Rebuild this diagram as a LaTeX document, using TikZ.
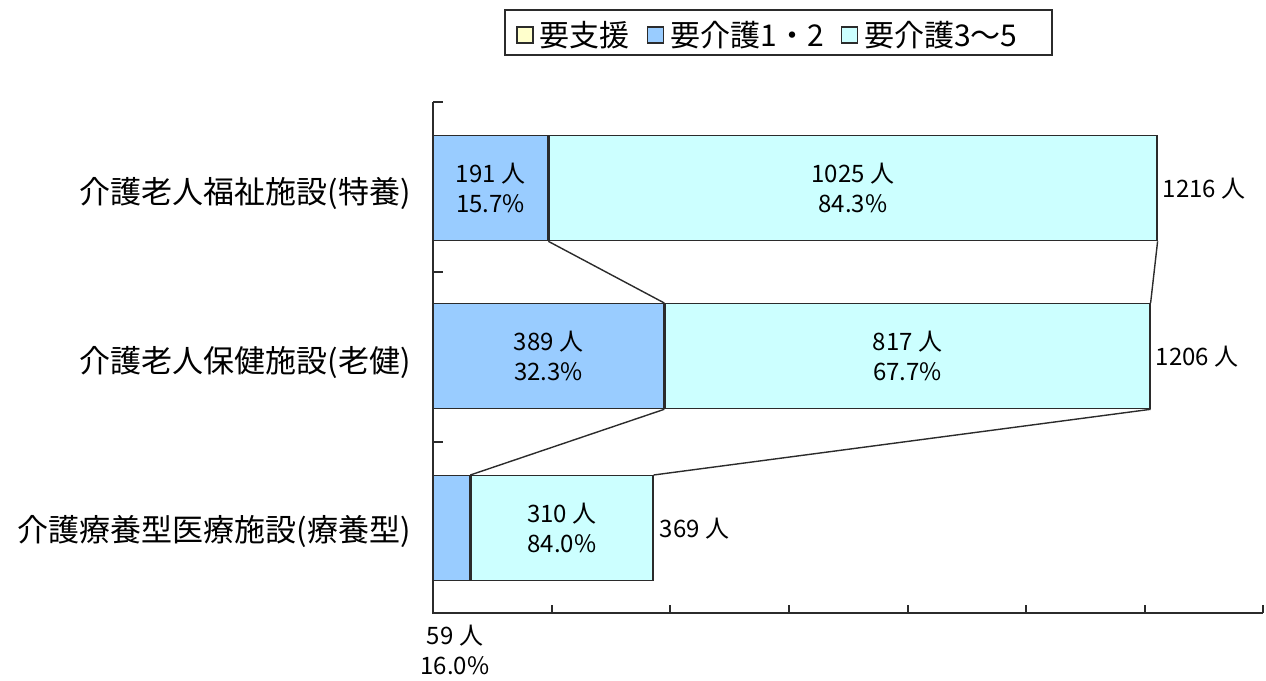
\documentclass[tikz,border=0pt]{standalone}
\usepackage{fontspec}
\setmainfont{Noto Sans CJK JP}
\usetikzlibrary{positioning}
\definecolor{shien}{HTML}{FFFFCC}
\definecolor{kaigoA}{HTML}{99CCFF}
\definecolor{kaigoB}{HTML}{CCFFFF}
\definecolor{axisgray}{HTML}{2B2B2B}

\tikzset{
  seg/.style={draw=axisgray, line width=1.3pt, inner sep=0pt, anchor=north west,
    minimum height=105, align=center, font=\fontsize{24}{30}\selectfont},
  total/.style={inner sep=0pt, font=\fontsize{24}{30}\selectfont},
  cat/.style={inner sep=0pt, anchor=east, font=\fontsize{31}{36}\selectfont},
  axis/.style={draw=axisgray, line width=1.5pt},
  link/.style={draw=axisgray, line width=1.4pt},
  keybox/.style={draw=axisgray, line width=1.2pt, minimum size=16, inner sep=0pt},
  keytext/.style={inner sep=0pt, font=\fontsize{30}{34}\selectfont},
}

\begin{document}
\begin{tikzpicture}[x=1pt,y=-1pt]
  \useasboundingbox (0,0) rectangle (1266,680);
  % legend
  \draw[axis] (505,10) rectangle (1052,55);
  \node[keybox, fill=shien] (key1) at (525,35) {};
  \node[keytext, right=6pt of key1] (key1t) {要支援};
  \node[keybox, fill=kaigoA, right=17pt of key1t] (key2) {};
  \node[keytext, right=6pt of key2] (key2t) {要介護1・2};
  \node[keybox, fill=kaigoB, right=17pt of key2t] (key3) {};
  \node[keytext, right=6pt of key3] (key3t) {要介護3〜5};
  % axes
  \draw[axis] (433,102) -- (433,613) -- (1263,613);
  \foreach \y in {102,272,442}
    \draw[axis] (433,\y) -- ++(10,0);
  \foreach \x in {552,670,789,908,1026,1145,1263}
    \draw[axis] (\x,613) -- ++(0,-8);
  % bars
  \node[seg, fill=kaigoA, minimum width=114] (toku1) at (433,135) {191 人\\15.7\%};
  \node[seg, fill=kaigoB, minimum width=608] (toku2) at (toku1.north east) {1025 人\\84.3\%};
  \node[seg, fill=kaigoA, minimum width=230] (roken1) at (433,303) {389 人\\32.3\%};
  \node[seg, fill=kaigoB, minimum width=485] (roken2) at (roken1.north east) {817 人\\67.7\%};
  \node[seg, fill=kaigoA, minimum width=36] (ryo1) at (433,475) {};
  \node[seg, fill=kaigoB, minimum width=182] (ryo2) at (ryo1.north east) {310 人\\84.0\%};
  % totals
  \node[total, right=5pt of toku2] (tokusum) {1216 人};
  \node[total, right=5pt of roken2] (rokensum) {1206 人};
  \node[total, right=6pt of ryo2] (ryosum) {369 人};
  \node[total, align=center] (ryo1val) at (455,650) {59 人\\16.0\%};
  % category names
  \node[cat] (tokuname) at (411,193) {介護老人福祉施設(特養)};
  \node[cat] (rokenname) at (411,362) {介護老人保健施設(老健)};
  \node[cat] (ryoname) at (411,531) {介護療養型医療施設(療養型)};
  % connecting lines
  \draw[link] (toku1.south east) -- (roken1.north east);
  \draw[link] (toku2.south east) -- (roken2.north east);
  \draw[link] (roken1.south east) -- (ryo1.north east);
  \draw[link] (roken2.south east) -- (ryo2.north east);
\end{tikzpicture}
\end{document}
